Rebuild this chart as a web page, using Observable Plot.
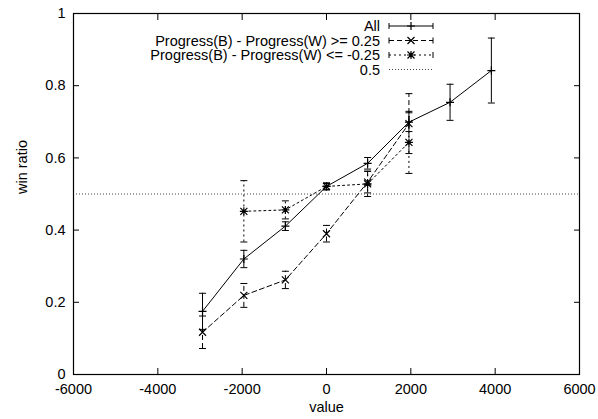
<!DOCTYPE html>
<html><head><meta charset="utf-8">
<script src="https://cdn.jsdelivr.net/npm/d3@7"></script>
<script src="https://cdn.jsdelivr.net/npm/@observablehq/plot@0.6"></script>
<style>body{margin:0;background:#fff} svg{display:block} #chart{width:598px;height:419px}</style>
</head><body><div id="chart"></div>
<script>
// ---- data ----
const xTicks = [-6000, -4000, -2000, 0, 2000, 4000, 6000];
const yTicks = [0, 0.2, 0.4, 0.6, 0.8, 1];

const seriesNames = ["All", "Progress(B) - Progress(W) >= 0.25", "Progress(B) - Progress(W) <= -0.25", "0.5"];

const allX = [-2940, -1960, -975, 0, 975, 1955, 2930, 3910];
const allY = [0.175, 0.320, 0.411, 0.521, 0.585, 0.699, 0.754, 0.842];
const allErr = [0.05, 0.024, 0.012, 0.008, 0.016, 0.026, 0.05, 0.09];

const posX = [-2940, -1960, -975, 0, 975, 1955];
const posY = [0.117, 0.219, 0.262, 0.390, 0.533, 0.695];
const posErr = [0.045, 0.033, 0.024, 0.023, 0.03, 0.083];

const negX = [-1960, -975, 0, 975, 1955];
const negY = [0.452, 0.456, 0.521, 0.528, 0.643];
const negErr = [0.085, 0.025, 0.01, 0.035, 0.086];

const refLevel = [0.5];

// ---- build tables ----
const table = (xs, ys, es) => xs.map((x, i) => ({x, y: ys[i], lo: ys[i] - es[i], hi: ys[i] + es[i]}));
const allData = table(allX, allY, allErr);
const posData = table(posX, posY, posErr);
const negData = table(negX, negY, negErr);

// ---- custom symbols ----
const capSym = {draw(ctx) { ctx.moveTo(-3.5, 0); ctx.lineTo(3.5, 0); }};
const plusSym = {draw(ctx) { ctx.moveTo(-4, 0); ctx.lineTo(4, 0); ctx.moveTo(0, -4); ctx.lineTo(0, 4); }};
const timesSym = {draw(ctx) { ctx.moveTo(-3.5, -3.5); ctx.lineTo(3.5, 3.5); ctx.moveTo(-3.5, 3.5); ctx.lineTo(3.5, -3.5); }};
const starSym = {draw(ctx) { plusSym.draw(ctx); timesSym.draw(ctx); }};

const styles = [
  {dash: null, sym: plusSym},
  {dash: "5,3", sym: timesSym},
  {dash: "2,3", sym: starSym},
  {dash: "1,2", sym: null}
];

const FS = 14.5;
const FF = "'Liberation Sans', Arial, Helvetica, sans-serif";

function seriesMarks(data, st) {
  return [
    Plot.line(data, {x: "x", y: "y", stroke: "black", strokeWidth: 1, strokeDasharray: st.dash}),
    Plot.ruleX(data, {x: "x", y1: "lo", y2: "hi", stroke: "black", strokeWidth: 1, strokeDasharray: st.dash}),
    Plot.dot(data, {x: "x", y: "lo", symbol: capSym, stroke: "black", fill: "none", strokeWidth: 1}),
    Plot.dot(data, {x: "x", y: "hi", symbol: capSym, stroke: "black", fill: "none", strokeWidth: 1}),
    Plot.dot(data, {x: "x", y: "y", symbol: st.sym, stroke: "black", fill: "none", strokeWidth: 1.2})
  ];
}

const chart = Plot.plot({
  width: 598, height: 419,
  marginLeft: 73, marginRight: 19, marginTop: 13, marginBottom: 45,
  style: {fontFamily: FF, fontSize: FS + "px", background: "#fff", color: "black"},
  x: {domain: [-6000, 6000]},
  y: {domain: [0, 1]},
  marks: [
    Plot.ruleY(refLevel, {y: d => d, stroke: "#444", strokeWidth: 1, strokeDasharray: styles[3].dash}),
    ...seriesMarks(negData, styles[2]),
    ...seriesMarks(posData, styles[1]),
    ...seriesMarks(allData, styles[0]),
    Plot.frame({stroke: "black", strokeWidth: 1.2}),
    // inward ticks on all four sides
    Plot.axisX({ticks: xTicks, anchor: "bottom", tickSize: -6, fill: "none", label: null}),
    Plot.axisX({ticks: xTicks, anchor: "top", tickSize: -6, fill: "none", label: null}),
    Plot.axisY({ticks: yTicks, anchor: "left", tickSize: -6, fill: "none", label: null}),
    Plot.axisY({ticks: yTicks, anchor: "right", tickSize: -6, fill: "none", label: null}),
    // tick labels
    Plot.axisX({ticks: xTicks, anchor: "bottom", tickSize: 0, tickPadding: 9, label: null, fontSize: FS, tickFormat: d => String(d)}),
    Plot.axisY({ticks: yTicks, anchor: "left", tickSize: 0, tickPadding: 8, label: null, fontSize: FS, tickFormat: d => String(d)}),
    // axis titles
    Plot.text(["value"], {frameAnchor: "bottom", text: d => d, dy: 37, fontSize: FS}),
    Plot.text(["win ratio"], {frameAnchor: "left", text: d => d, dx: -51, rotate: -90, fontSize: FS})
  ]
});
document.getElementById("chart").appendChild(chart);

// ---- legend (gnuplot style, top inside) ----
const svg = d3.select(chart);
const g = svg.append("g").attr("font-family", FF).attr("font-size", FS);
const rowY = [26, 40.5, 55, 69.5];
const textRight = 380, lx1 = 389, lx2 = 433;
seriesNames.forEach((name, i) => {
  const y = rowY[i], st = styles[i];
  g.append("text").attr("x", textRight).attr("y", y).attr("text-anchor", "end")
    .attr("dy", "0.35em").attr("fill", "black").text(name);
  g.append("line").attr("x1", lx1).attr("x2", lx2).attr("y1", y).attr("y2", y)
    .attr("stroke", i === 3 ? "#444" : "black").attr("stroke-width", 1).attr("stroke-dasharray", st.dash);
  if (st.sym) {
    [lx1, lx2].forEach(x => g.append("line").attr("x1", x).attr("x2", x).attr("y1", y - 3).attr("y2", y + 3)
      .attr("stroke", "black").attr("stroke-width", 1));
    const p = d3.path(); st.sym.draw(p);
    g.append("path").attr("d", p.toString()).attr("transform", `translate(${(lx1 + lx2) / 2},${y})`)
      .attr("stroke", "black").attr("fill", "none").attr("stroke-width", 1.2);
  }
});
</script>
</body></html>
